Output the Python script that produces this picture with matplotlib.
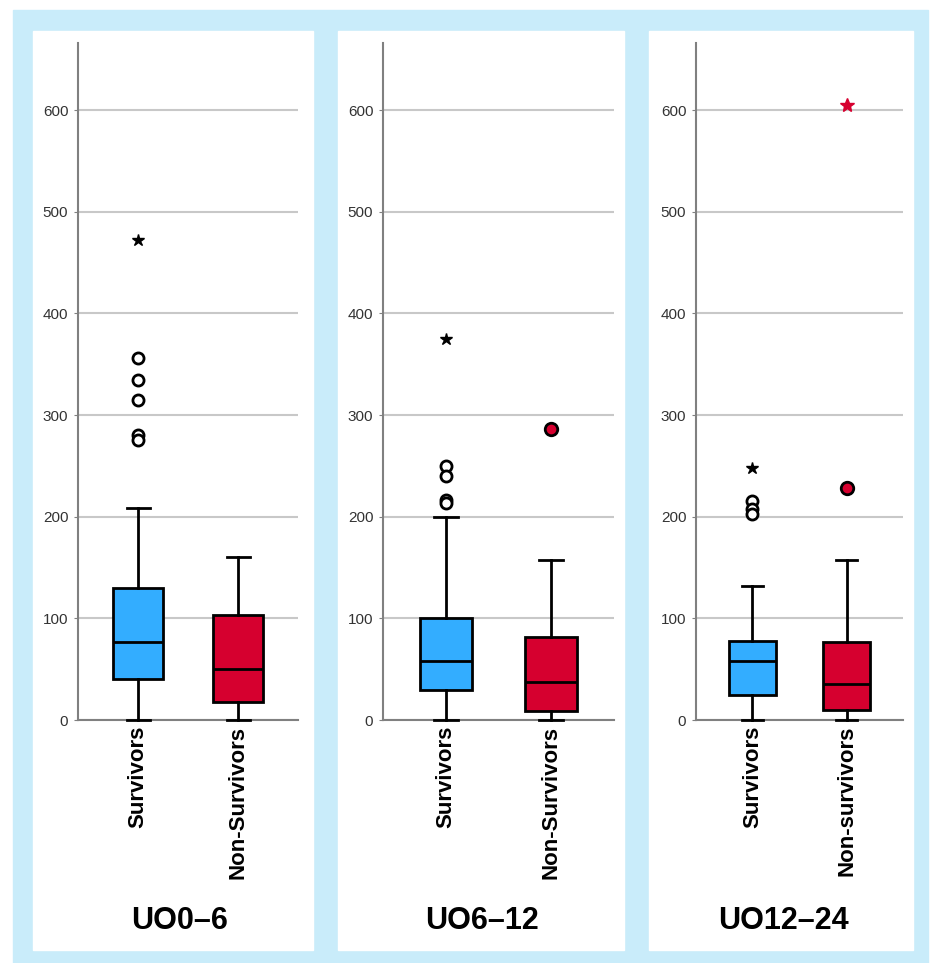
import matplotlib.pyplot as plt
from matplotlib.patches import Rectangle

# ---- data ----
panel_titles = ["UO0\u20136", "UO6\u201312", "UO12\u201324"]
group_labels = [["Survivors", "Non-Survivors"],
                ["Survivors", "Non-Survivors"],
                ["Survivors", "Non-survivors"]]

# (whislo, q1, median, q3, whishi) for survivors / non-survivors
surv_stats = [(0, 40, 77, 130, 209), (0, 30, 58, 100, 200), (0, 25, 58, 78, 132)]
nons_stats = [(0, 18, 50, 103, 160), (0, 9, 37, 82, 157), (0, 10, 35, 77, 157)]

# outliers (circles) and extremes (stars)
surv_out = [[356, 334, 315, 280, 275], [250, 240, 216, 213], [215, 208, 203]]
nons_out = [[], [286], [228]]
surv_ext = [[472], [375], [248]]
nons_ext = [[], [], [605]]

blue = "#33adff"
red = "#d6002f"
bg = "#c9ecfa"

W, H = 930, 963
fig = plt.figure(figsize=(W / 100, H / 100), dpi=100)
plt.rcParams['font.family'] = ['Liberation Sans', 'DejaVu Sans']


def px(x0, y0, x1, y1):
    # pixel box (top-left origin) -> figure fraction
    return [x0 / W, 1 - y1 / H, (x1 - x0) / W, (y1 - y0) / H]


fig.add_artist(Rectangle((13 / W, 0), (928 - 13) / W, 1 - 10 / H,
                         transform=fig.transFigure, color=bg, zorder=-10))

panels = [(33, 313), (338, 624), (649, 913)]
axes_x = [(78, 298), (383, 614), (696, 903)]
title_x = [180, 482, 783]

for i in range(3):
    p0, p1 = panels[i]
    fig.add_artist(Rectangle((p0 / W, 1 - 950 / H), (p1 - p0) / W, (950 - 31) / H,
                             transform=fig.transFigure, color="white", zorder=-9))

    a0, a1 = axes_x[i]
    ax = fig.add_axes(px(a0, 43, a1, 720))
    ax.set_facecolor("none")

    stats = []
    for s in (surv_stats[i], nons_stats[i]):
        lo, q1, med, q3, hi = s
        stats.append(dict(whislo=lo, q1=q1, med=med, q3=q3, whishi=hi, fliers=[]))
    bp = ax.bxp(stats, positions=[1, 2], widths=0.5, capwidths=0.23,
                patch_artist=True, showfliers=False,
                boxprops=dict(linewidth=2.0, edgecolor="black"),
                medianprops=dict(color="black", linewidth=2.0),
                whiskerprops=dict(color="black", linewidth=2.0),
                capprops=dict(color="black", linewidth=2.0))
    for box, c in zip(bp["boxes"], [blue, red]):
        box.set_facecolor(c)
        box.set_zorder(3)
    for ln in bp["medians"] + bp["whiskers"] + bp["caps"]:
        ln.set_zorder(4)
        ln.set_clip_on(False)

    # outliers
    ax.plot([1] * len(surv_out[i]), surv_out[i], "o", ms=8, mfc="white",
            mec="black", mew=2.0, ls="none", zorder=5)
    ax.plot([2] * len(nons_out[i]), nons_out[i], "o", ms=9, mfc=red,
            mec="black", mew=2.0, ls="none", zorder=5)
    ax.plot([1] * len(surv_ext[i]), surv_ext[i], "*", ms=9, color="black",
            ls="none", zorder=5)
    ax.plot([2] * len(nons_ext[i]), nons_ext[i], "*", ms=10.5, color=red,
            ls="none", zorder=5)

    ax.set_xlim(0.4, 2.6)
    ax.set_ylim(0, 666)
    ax.set_yticks(range(0, 700, 100))
    ax.grid(axis="y", color="#c8c8c8", linewidth=1.5, zorder=0)
    ax.set_axisbelow(True)
    for sp in ["top", "right"]:
        ax.spines[sp].set_visible(False)
    ax.spines["left"].set_color("#808080")
    ax.spines["bottom"].set_color("#808080")
    ax.spines["left"].set_linewidth(1.5)
    ax.spines["bottom"].set_linewidth(1.5)
    ax.tick_params(axis="y", length=3, color="#808080", labelsize=11,
                   labelcolor="#333333", pad=4)
    ax.tick_params(axis="x", length=0, pad=4)
    ax.set_xticks([1, 2])
    ax.set_xticklabels(group_labels[i], rotation=90, fontsize=16,
                       fontweight="bold", va="top", ha="center")

    fig.text(title_x[i] / W, 1 - 921 / H, panel_titles[i], fontsize=22,
             fontweight="bold", ha="center", va="center")

fig.savefig("out.png", dpi=100)
